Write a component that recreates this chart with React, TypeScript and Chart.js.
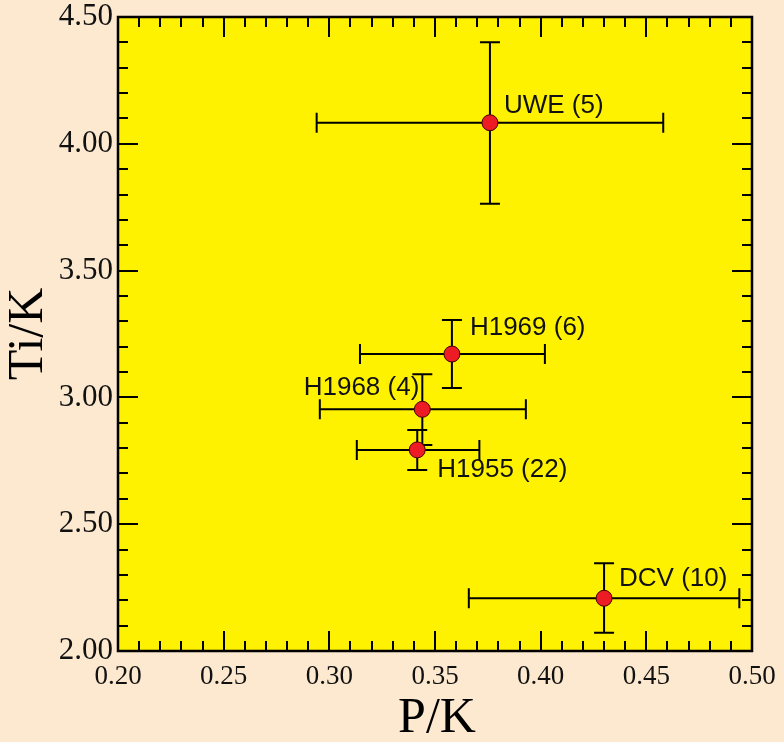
import React, { useEffect, useRef } from "react";
import { Chart, registerables } from "chart.js";

Chart.register(...registerables);

// ---- data ----
const names = ["UWE (5)", "H1969 (6)", "H1968 (4)", "H1955 (22)", "DCV (10)"];
const pk = [0.376, 0.358, 0.344, 0.3416, 0.43];
const pkLow = [0.294, 0.3145, 0.2955, 0.313, 0.366];
const pkHigh = [0.458, 0.402, 0.393, 0.371, 0.494];
const tik = [4.083, 3.171, 2.953, 2.793, 2.208];
const tikLow = [3.764, 3.037, 2.812, 2.714, 2.072];
const tikHigh = [4.4, 3.305, 3.091, 2.871, 2.346];
const xTickLabels = ["0.20", "0.25", "0.30", "0.35", "0.40", "0.45", "0.50"];
const yTickLabels = ["2.00", "2.50", "3.00", "3.50", "4.00", "4.50"];

// ---- styling (label placement relative to point, in px) ----
const LABEL_STYLE = [
  { dx: 14, dy: -17, align: "left" },
  { dx: 18, dy: -26, align: "left" },
  { dx: -3, dy: -21, align: "right" },
  { dx: 20, dy: 20, align: "left" },
  { dx: 15, dy: -19, align: "left" },
];

const PAGE_BG = "#FDE9CF";
const PLOT_BG = "#FFF200";
const MARKER = "#ED1C24";
const SERIF = "'Liberation Serif', 'Times New Roman', serif";
const SANS = "'Liberation Sans', Arial, sans-serif";

const decorPlugin = {
  id: "decor",
  beforeDraw(chart: any) {
    const { ctx, chartArea: a } = chart;
    ctx.save();
    ctx.fillStyle = PAGE_BG;
    ctx.fillRect(0, 0, chart.width, chart.height);
    ctx.fillStyle = PLOT_BG;
    ctx.fillRect(a.left, a.top, a.right - a.left, a.bottom - a.top);
    ctx.restore();
  },
  beforeDatasetsDraw(chart: any) {
    const { ctx } = chart;
    const xs = chart.scales.x;
    const ys = chart.scales.y;
    ctx.save();
    ctx.strokeStyle = "#000";
    ctx.lineWidth = 2;
    const cap = 10;
    for (let i = 0; i < pk.length; i++) {
      const px = xs.getPixelForValue(pk[i]);
      const py = ys.getPixelForValue(tik[i]);
      const xl = xs.getPixelForValue(pkLow[i]);
      const xh = xs.getPixelForValue(pkHigh[i]);
      const yl = ys.getPixelForValue(tikLow[i]);
      const yh = ys.getPixelForValue(tikHigh[i]);
      ctx.beginPath();
      ctx.moveTo(xl, py);
      ctx.lineTo(xh, py);
      ctx.moveTo(xl, py - cap);
      ctx.lineTo(xl, py + cap);
      ctx.moveTo(xh, py - cap);
      ctx.lineTo(xh, py + cap);
      ctx.moveTo(px, yl);
      ctx.lineTo(px, yh);
      ctx.moveTo(px - cap, yl);
      ctx.lineTo(px + cap, yl);
      ctx.moveTo(px - cap, yh);
      ctx.lineTo(px + cap, yh);
      ctx.stroke();
    }
    ctx.restore();
  },
  afterDatasetsDraw(chart: any) {
    const { ctx, chartArea: a } = chart;
    const xs = chart.scales.x;
    const ys = chart.scales.y;
    ctx.save();
    // point labels
    ctx.fillStyle = "#111";
    ctx.font = `26px ${SANS}`;
    ctx.textBaseline = "middle";
    for (let i = 0; i < names.length; i++) {
      const s = LABEL_STYLE[i];
      ctx.textAlign = s.align;
      ctx.fillText(
        names[i],
        xs.getPixelForValue(pk[i]) + s.dx,
        ys.getPixelForValue(tik[i]) + s.dy
      );
    }
    // inward ticks
    ctx.strokeStyle = "#000";
    ctx.lineWidth = 2;
    ctx.beginPath();
    for (let i = 1; i < 30; i++) {
      const v = 0.2 + i * 0.01;
      const p = Math.round(xs.getPixelForValue(v));
      const len = i % 5 === 0 ? 20 : 10;
      ctx.moveTo(p, a.bottom);
      ctx.lineTo(p, a.bottom - len);
      ctx.moveTo(p, a.top);
      ctx.lineTo(p, a.top + len);
    }
    for (let i = 1; i < 25; i++) {
      const v = 2 + i * 0.1;
      const p = Math.round(ys.getPixelForValue(v));
      const len = i % 5 === 0 ? 20 : 10;
      ctx.moveTo(a.left, p);
      ctx.lineTo(a.left + len, p);
      ctx.moveTo(a.right, p);
      ctx.lineTo(a.right - len, p);
    }
    ctx.stroke();
    // frame
    ctx.lineWidth = 2.5;
    ctx.strokeRect(a.left, a.top, a.right - a.left, a.bottom - a.top);
    // axis titles
    ctx.fillStyle = "#000";
    ctx.font = `50px ${SERIF}`;
    ctx.textAlign = "center";
    ctx.textBaseline = "middle";
    ctx.fillText("P/K", (a.left + a.right) / 2 + 2, 719);
    ctx.translate(29, (a.top + a.bottom) / 2);
    ctx.rotate(-Math.PI / 2);
    ctx.fillText("Ti/K", 0, 0);
    ctx.restore();
  },
};

export default function App() {
  const ref = useRef<HTMLCanvasElement>(null);
  useEffect(() => {
    if (!ref.current) return;
    const chart = new Chart(ref.current, {
      type: "scatter",
      data: {
        datasets: [
          {
            data: pk.map((x, i) => ({ x, y: tik[i] })),
            pointRadius: 8,
            pointHoverRadius: 8,
            backgroundColor: MARKER,
            borderColor: "#400000",
            borderWidth: 1,
          },
        ],
      },
      options: {
        animation: false,
        responsive: false,
        devicePixelRatio: 1,
        events: [],
        layout: { padding: { top: 17, right: 32, left: 0, bottom: 0 } },
        plugins: { legend: { display: false }, tooltip: { enabled: false } },
        scales: {
          x: {
            type: "linear",
            min: 0.2,
            max: 0.5,
            grid: { display: false, drawTicks: false },
            border: { display: false },
            afterFit: (s: any) => {
              s.height = 91;
              s.paddingLeft = 0;
              s.paddingRight = 0;
            },
            ticks: {
              stepSize: 0.05,
              autoSkip: false,
              maxRotation: 0,
              padding: 10,
              color: "#111",
              font: { family: SERIF, size: 27 },
              callback: (_v: any, i: number) => xTickLabels[i],
            },
          },
          y: {
            type: "linear",
            min: 2,
            max: 4.5,
            grid: { display: false, drawTicks: false },
            border: { display: false },
            afterFit: (s: any) => {
              s.width = 118;
              s.paddingTop = 0;
              s.paddingBottom = 0;
            },
            ticks: {
              stepSize: 0.5,
              autoSkip: false,
              padding: 5,
              color: "#111",
              font: { family: SERIF, size: 31 },
              callback: (_v: any, i: number) => yTickLabels[i],
            },
          },
        },
      },
      plugins: [decorPlugin],
    });
    return () => chart.destroy();
  }, []);
  return (
    <div style={{ position: "absolute", left: 0, top: 0, width: 784, height: 742, background: PAGE_BG }}>
      <canvas ref={ref} width={784} height={742} style={{ display: "block" }} />
    </div>
  );
}
